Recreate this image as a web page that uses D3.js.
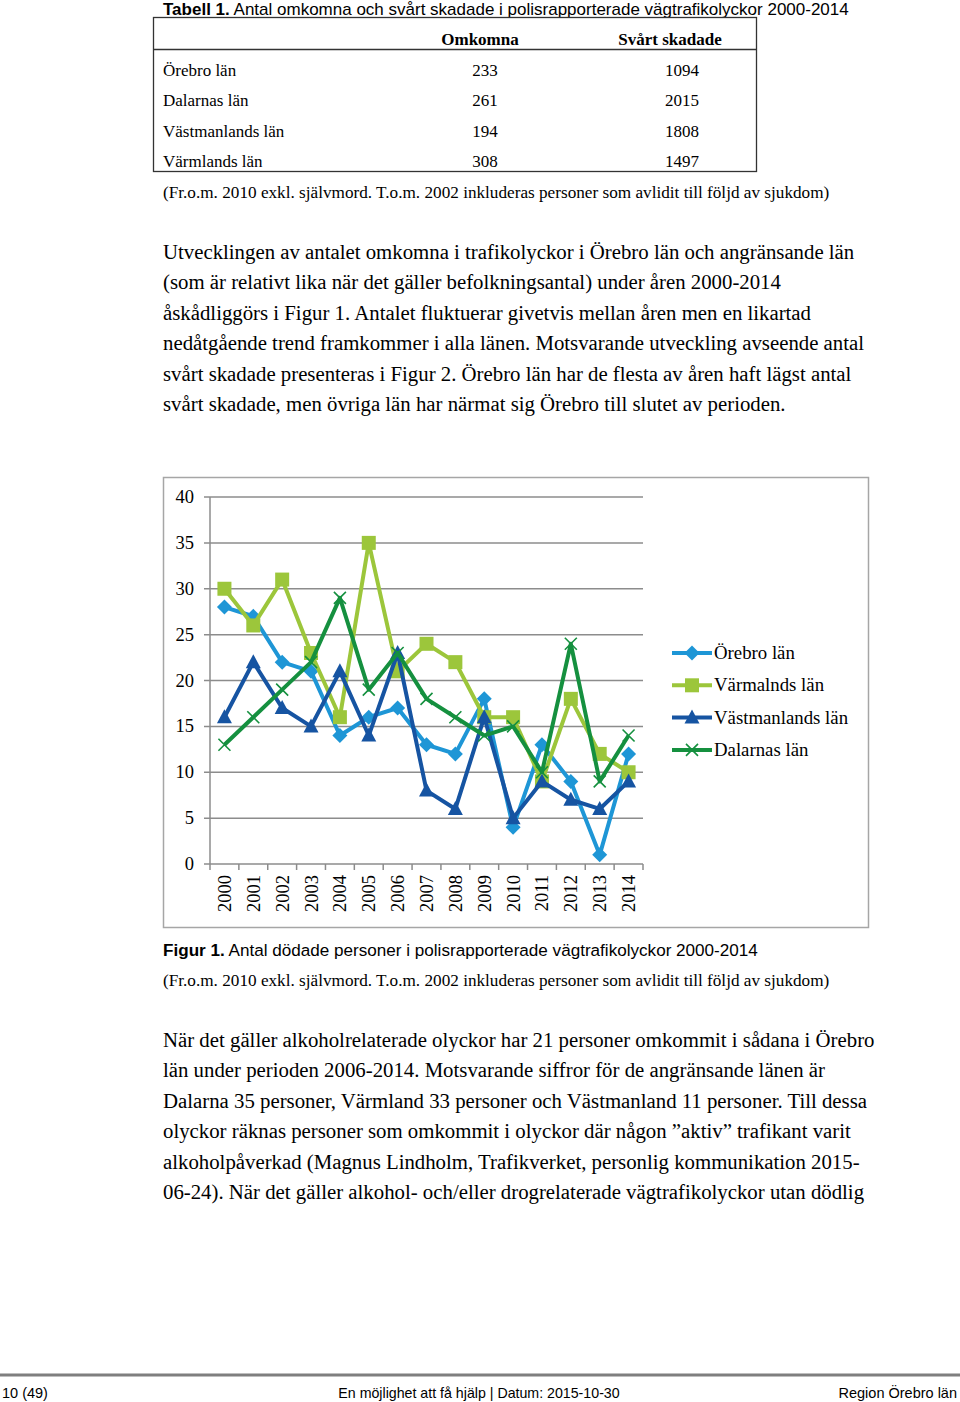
<!DOCTYPE html>
<html><head><meta charset="utf-8">
<script src="https://cdn.jsdelivr.net/npm/d3@7"></script>
<style>html,body{margin:0;padding:0;background:#fff}svg{display:block}</style>
</head><body>
<script>
// ---- data ----
const years = ["2000","2001","2002","2003","2004","2005","2006","2007","2008","2009","2010","2011","2012","2013","2014"];
const orebro      = [28,27,22,21,14,16,17,13,12,18,4,13,9,1,12];
const varmland    = [30,26,31,23,16,35,21,24,22,16,16,9,18,12,10];
const vastmanland = [16,22,17,15,21,14,23,8,6,16,5,9,7,6,9];
const dalarna     = [13,16,19,22,29,19,23,18,16,14,15,10,24,9,14];
const seriesNames = ["Örebro län","Värmalnds län","Västmanlands län","Dalarnas län"];
const yTicks = [0,5,10,15,20,25,30,35,40];

const tableLan = ["Örebro län","Dalarnas län","Västmanlands län","Värmlands län"];
const tableOmkomna = ["233","261","194","308"];
const tableSkadade = ["1094","2015","1808","1497"];

const note = "(Fr.o.m. 2010 exkl. självmord. T.o.m. 2002 inkluderas personer som avlidit till följd av sjukdom)";
const para1 = [
 "Utvecklingen av antalet omkomna i trafikolyckor i Örebro län och angränsande län",
 "(som är relativt lika när det gäller befolkningsantal) under åren 2000-2014",
 "åskådliggörs i Figur 1. Antalet fluktuerar givetvis mellan åren men en likartad",
 "nedåtgående trend framkommer i alla länen. Motsvarande utveckling avseende antal",
 "svårt skadade presenteras i Figur 2. Örebro län har de flesta av åren haft lägst antal",
 "svårt skadade, men övriga län har närmat sig Örebro till slutet av perioden."
];
const para2 = [
 "När det gäller alkoholrelaterade olyckor har 21 personer omkommit i sådana i Örebro",
 "län under perioden 2006-2014. Motsvarande siffror för de angränsande länen är",
 "Dalarna 35 personer, Värmland 33 personer och Västmanland 11 personer. Till dessa",
 "olyckor räknas personer som omkommit i olyckor där någon ”aktiv” trafikant varit",
 "alkoholpåverkad (Magnus Lindholm, Trafikverket, personlig kommunikation 2015-",
 "06-24). När det gäller alkohol- och/eller drogrelaterade vägtrafikolyckor utan dödlig"
];

// ---- page ----
const W = 960, H = 1402;
const svg = d3.select("body").append("svg").attr("width", W).attr("height", H);
svg.append("rect").attr("width", W).attr("height", H).attr("fill", "#fff");
const serif = "'Liberation Serif','Times New Roman',serif";
const sans = "'Liberation Sans',Arial,sans-serif";

// Table title
const t1 = svg.append("text").attr("x", 163).attr("y", 15).attr("font-family", sans).attr("font-size", 17).attr("fill", "#000");
t1.append("tspan").attr("font-weight", "bold").text("Tabell 1.");
t1.append("tspan").text(" Antal omkomna och svårt skadade i polisrapporterade vägtrafikolyckor 2000-2014");

// Table
svg.append("rect").attr("x", 153.5).attr("y", 17.5).attr("width", 603).attr("height", 154).attr("fill", "none").attr("stroke", "#333").attr("stroke-width", 1.3);
svg.append("line").attr("x1", 153.5).attr("x2", 756.5).attr("y1", 49.5).attr("y2", 49.5).attr("stroke", "#333").attr("stroke-width", 1.3);
svg.append("text").attr("x", 480).attr("y", 45).attr("text-anchor", "middle").attr("font-family", serif).attr("font-weight", "bold").attr("font-size", 17).text("Omkomna");
svg.append("text").attr("x", 670).attr("y", 45).attr("text-anchor", "middle").attr("font-family", serif).attr("font-weight", "bold").attr("font-size", 17).text("Svårt skadade");
tableLan.forEach((l, i) => {
  const yy = 76 + i * 30.4;
  svg.append("text").attr("x", 163).attr("y", yy).attr("font-family", serif).attr("font-size", 17).text(l);
  svg.append("text").attr("x", 485).attr("y", yy).attr("text-anchor", "middle").attr("font-family", serif).attr("font-size", 17).text(tableOmkomna[i]);
  svg.append("text").attr("x", 682).attr("y", yy).attr("text-anchor", "middle").attr("font-family", serif).attr("font-size", 17).text(tableSkadade[i]);
});
svg.append("text").attr("x", 163).attr("y", 198).attr("font-family", serif).attr("font-size", 17.2).text(note);

// Paragraph 1
para1.forEach((s, i) => {
  svg.append("text").attr("x", 163).attr("y", 259 + i * 30.4).attr("font-family", serif).attr("font-size", 20.8).text(s);
});

// ---- chart ----
svg.append("rect").attr("x", 163.5).attr("y", 477.5).attr("width", 705).attr("height", 450)
  .attr("fill", "#fff").attr("stroke", "#a6a6a6").attr("stroke-width", 1.5);

const x = d3.scaleBand().domain(years).range([210, 643]);
const y = d3.scaleLinear().domain([0, 40]).range([864, 497]);
const grid = "#8c8c8c";

// gridlines + y labels
const g = svg.append("g");
g.selectAll("line.grid").data(yTicks).join("line")
  .attr("x1", 204).attr("x2", 643)
  .attr("y1", d => y(d)).attr("y2", d => y(d))
  .attr("stroke", grid).attr("stroke-width", 1.5);
g.append("line").attr("x1", 210).attr("x2", 210).attr("y1", y(40)).attr("y2", y(0)).attr("stroke", grid).attr("stroke-width", 1.5);
g.selectAll("text.ylab").data(yTicks).join("text")
  .attr("x", 194).attr("y", d => y(d) + 6).attr("text-anchor", "end")
  .attr("font-family", serif).attr("font-size", 18.5).text(d => d);

// x ticks at band boundaries
const bounds = years.map(d => x(d)).concat([x(years[years.length - 1]) + x.bandwidth()]);
g.selectAll("line.xt").data(bounds).join("line")
  .attr("x1", d => d).attr("x2", d => d).attr("y1", y(0)).attr("y2", y(0) + 6)
  .attr("stroke", grid).attr("stroke-width", 1.5);
g.selectAll("text.xlab").data(years).join("text")
  .attr("transform", d => `translate(${x(d) + x.bandwidth() / 2 + 6.5},875) rotate(-90)`)
  .attr("text-anchor", "end").attr("font-family", serif).attr("font-size", 18.5).text(d => d);

// series
const colors = ["#1e96d6", "#9cc63b", "#1654a2", "#15903f"];
const series = [orebro, varmland, vastmanland, dalarna];
const shapes = ["diamond", "square", "triangle", "x"];

function marker(sel, shape, color, cx, cy) {
  if (shape === "diamond") {
    sel.append("path").attr("d", `M${cx},${cy-7.5}L${cx+7.5},${cy}L${cx},${cy+7.5}L${cx-7.5},${cy}Z`).attr("fill", color);
  } else if (shape === "square") {
    sel.append("rect").attr("x", cx - 7).attr("y", cy - 7).attr("width", 14).attr("height", 14).attr("fill", color);
  } else if (shape === "triangle") {
    sel.append("path").attr("d", `M${cx},${cy-8}L${cx+7.5},${cy+6}L${cx-7.5},${cy+6}Z`).attr("fill", color);
  } else {
    sel.append("path").attr("d", `M${cx-6},${cy-6}L${cx+6},${cy+6}M${cx-6},${cy+6}L${cx+6},${cy-6}`).attr("stroke", color).attr("stroke-width", 1.6).attr("fill", "none");
  }
}

const line = d3.line().x((d, i) => x(years[i]) + x.bandwidth() / 2).y(d => y(d));
series.forEach((vals, si) => {
  const sg = svg.append("g");
  sg.append("path").attr("d", line(vals)).attr("fill", "none").attr("stroke", colors[si])
    .attr("stroke-width", 4).attr("stroke-linejoin", "round");
  vals.forEach((v, i) => marker(sg, shapes[si], colors[si], x(years[i]) + x.bandwidth() / 2, y(v)));
});

// legend
seriesNames.forEach((n, i) => {
  const ly = 653 + i * 32.3;
  const lg = svg.append("g");
  lg.append("line").attr("x1", 672).attr("x2", 712).attr("y1", ly).attr("y2", ly).attr("stroke", colors[i]).attr("stroke-width", 4);
  marker(lg, shapes[i], colors[i], 692, ly);
  lg.append("text").attr("x", 714).attr("y", ly + 6).attr("font-family", serif).attr("font-size", 18.8).text(n);
});

// figure caption
const fc = svg.append("text").attr("x", 163).attr("y", 956).attr("font-family", sans).attr("font-size", 17.1);
fc.append("tspan").attr("font-weight", "bold").text("Figur 1.");
fc.append("tspan").text(" Antal dödade personer i polisrapporterade vägtrafikolyckor 2000-2014");
svg.append("text").attr("x", 163).attr("y", 986).attr("font-family", serif).attr("font-size", 17.2).text(note);

// Paragraph 2
para2.forEach((s, i) => {
  svg.append("text").attr("x", 163).attr("y", 1047 + i * 30.4).attr("font-family", serif).attr("font-size", 20.8).text(s);
});

// footer
svg.append("line").attr("x1", 0).attr("x2", 960).attr("y1", 1375).attr("y2", 1375).attr("stroke", "#7f7f7f").attr("stroke-width", 3);
svg.append("text").attr("x", 2).attr("y", 1398).attr("font-family", sans).attr("font-size", 14.5).text("10 (49)");
svg.append("text").attr("x", 479).attr("y", 1398).attr("text-anchor", "middle").attr("font-family", sans).attr("font-size", 14.2).text("En möjlighet att få hjälp | Datum: 2015-10-30");
svg.append("text").attr("x", 957).attr("y", 1398).attr("text-anchor", "end").attr("font-family", sans).attr("font-size", 14.5).text("Region Örebro län");
</script>
</body></html>
